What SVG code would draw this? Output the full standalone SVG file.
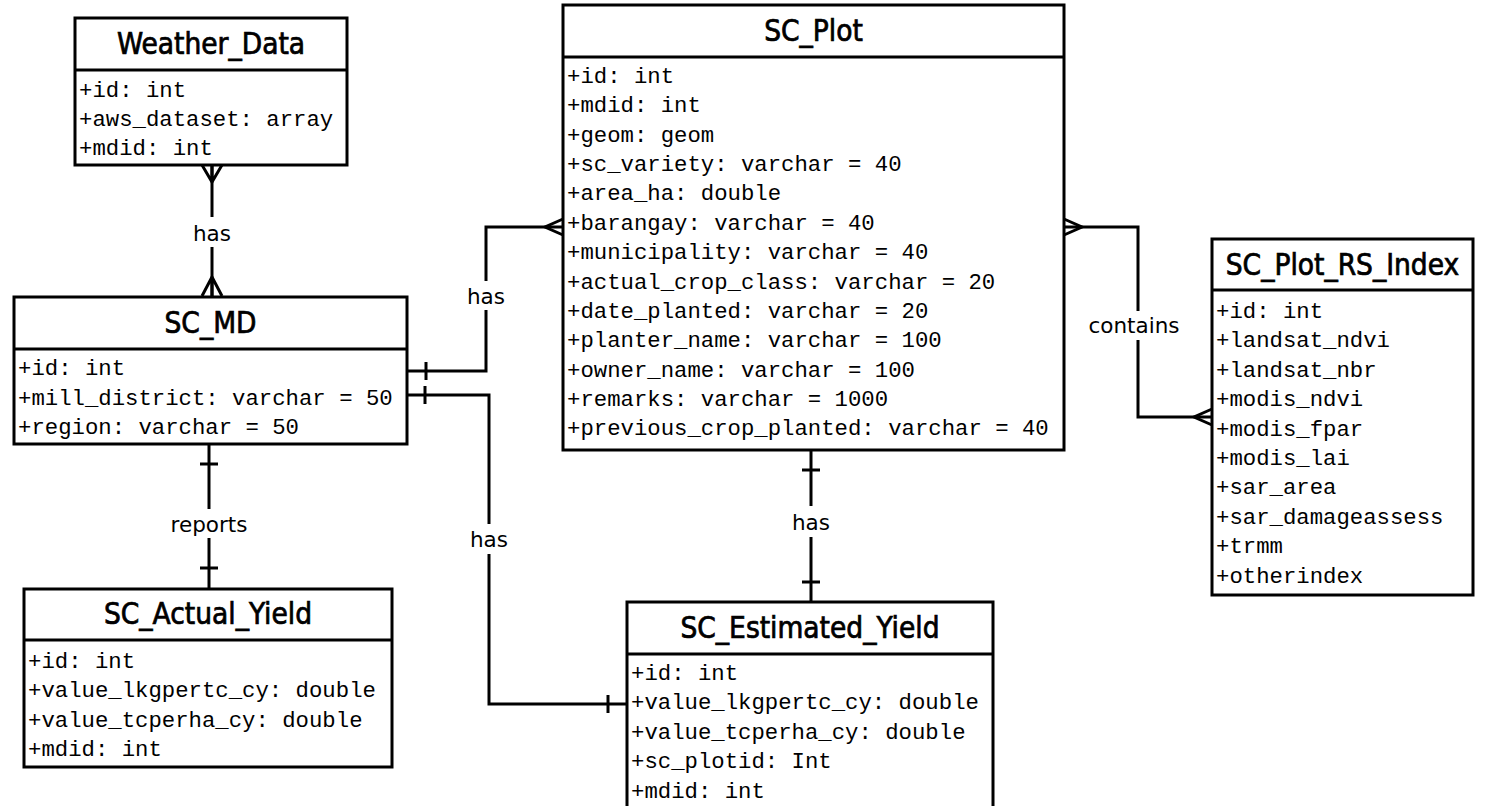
<svg xmlns="http://www.w3.org/2000/svg" width="1488" height="806" viewBox="0 0 1488 806">
<style>
.box{fill:#fff;stroke:#000;stroke-width:3}
.div{stroke:#000;stroke-width:3}
.title{font-family:"DejaVu Sans Condensed","DejaVu Sans",sans-serif;font-size:29.5px;fill:#000;stroke:#000;stroke-width:0.7;text-anchor:middle}
.attr{font-family:"Courier New","Liberation Mono",Courier,"Nimbus Mono PS",FreeMono,monospace;font-size:22.3px;fill:#000}
.conn{fill:none;stroke:#000;stroke-width:3}
.lbl{font-family:"DejaVu Sans",sans-serif;font-size:21.5px;fill:#000;text-anchor:middle}
.bg{fill:#fff}
</style>
<rect width="1488" height="806" fill="#fff"/>

<g id="connectors">
  <path class="conn" d="M212,165 V296"/>
  <path class="conn" d="M202,165 L212,182 L222,165 M212,165 V182"/>
  <path class="conn" d="M202,296 L212,277 L222,296 M212,296 V277"/>
  <rect class="bg" x="190" y="217" width="44" height="30"/>
  <text class="lbl" x="212" y="241">has</text>

  <path class="conn" d="M407,371 H486 V227 H563"/>
  <path class="conn" d="M426,362 V380"/>
  <path class="conn" d="M563,219 L545,227 L563,235"/>
  <rect class="bg" x="464" y="281" width="44" height="29"/>
  <text class="lbl" x="486" y="304">has</text>

  <path class="conn" d="M407,395 H489 V704 H627"/>
  <path class="conn" d="M425,386 V404"/>
  <path class="conn" d="M608,695 V713"/>
  <rect class="bg" x="467" y="524" width="44" height="30"/>
  <text class="lbl" x="489" y="547">has</text>

  <path class="conn" d="M209,444 V589"/>
  <path class="conn" d="M200,464 H218 M200,568 H218"/>
  <rect class="bg" x="166" y="509" width="86" height="29"/>
  <text class="lbl" x="209" y="532">reports</text>

  <path class="conn" d="M811,450 V602"/>
  <path class="conn" d="M802,470 H820 M802,582 H820"/>
  <rect class="bg" x="789" y="506" width="44" height="31"/>
  <text class="lbl" x="811" y="530">has</text>

  <path class="conn" d="M1064,227 H1138 V417 H1212"/>
  <path class="conn" d="M1064,219 L1082,227 L1064,235"/>
  <path class="conn" d="M1212,409 L1194,417 L1212,425"/>
  <rect class="bg" x="1085" y="311" width="100" height="29"/>
  <text class="lbl" x="1134" y="333">contains</text>
</g>

<g id="Weather_Data">
  <rect class="box" x="75" y="18" width="272" height="147"/>
  <line class="div" x1="75" y1="70" x2="347" y2="70"/>
  <text class="title" x="211" y="54">Weather_Data</text>
  <text class="attr" x="79" y="97">+id: int</text>
  <text class="attr" x="79" y="126">+aws_dataset: array</text>
  <text class="attr" x="79" y="155">+mdid: int</text>
</g>

<g id="SC_MD">
  <rect class="box" x="14" y="297" width="393" height="147"/>
  <line class="div" x1="14" y1="349" x2="407" y2="349"/>
  <text class="title" x="210.5" y="333">SC_MD</text>
  <text class="attr" x="18" y="375">+id: int</text>
  <text class="attr" x="18" y="405">+mill_district: varchar = 50</text>
  <text class="attr" x="18" y="434">+region: varchar = 50</text>
</g>

<g id="SC_Plot">
  <rect class="box" x="563" y="5" width="501" height="445"/>
  <line class="div" x1="563" y1="57" x2="1064" y2="57"/>
  <text class="title" x="813.5" y="41">SC_Plot</text>
  <text class="attr" x="567" y="83">+id: int</text>
  <text class="attr" x="567" y="112.4">+mdid: int</text>
  <text class="attr" x="567" y="141.7">+geom: geom</text>
  <text class="attr" x="567" y="171.1">+sc_variety: varchar = 40</text>
  <text class="attr" x="567" y="200.4">+area_ha: double</text>
  <text class="attr" x="567" y="229.8">+barangay: varchar = 40</text>
  <text class="attr" x="567" y="259.1">+municipality: varchar = 40</text>
  <text class="attr" x="567" y="288.5">+actual_crop_class: varchar = 20</text>
  <text class="attr" x="567" y="317.8">+date_planted: varchar = 20</text>
  <text class="attr" x="567" y="347.2">+planter_name: varchar = 100</text>
  <text class="attr" x="567" y="376.5">+owner_name: varchar = 100</text>
  <text class="attr" x="567" y="405.9">+remarks: varchar = 1000</text>
  <text class="attr" x="567" y="435.2">+previous_crop_planted: varchar = 40</text>
</g>

<g id="SC_Plot_RS_Index">
  <rect class="box" x="1212" y="239" width="261" height="356"/>
  <line class="div" x1="1212" y1="290" x2="1473" y2="290"/>
  <text class="title" x="1342.5" y="275">SC_Plot_RS_Index</text>
  <text class="attr" x="1216" y="318">+id: int</text>
  <text class="attr" x="1216" y="347.4">+landsat_ndvi</text>
  <text class="attr" x="1216" y="376.8">+landsat_nbr</text>
  <text class="attr" x="1216" y="406.2">+modis_ndvi</text>
  <text class="attr" x="1216" y="435.6">+modis_fpar</text>
  <text class="attr" x="1216" y="465">+modis_lai</text>
  <text class="attr" x="1216" y="494.4">+sar_area</text>
  <text class="attr" x="1216" y="523.8">+sar_damageassess</text>
  <text class="attr" x="1216" y="553.2">+trmm</text>
  <text class="attr" x="1216" y="582.6">+otherindex</text>
</g>

<g id="SC_Actual_Yield">
  <rect class="box" x="24" y="589" width="368" height="178"/>
  <line class="div" x1="24" y1="640" x2="392" y2="640"/>
  <text class="title" x="208" y="624">SC_Actual_Yield</text>
  <text class="attr" x="28" y="667.5">+id: int</text>
  <text class="attr" x="28" y="697">+value_lkgpertc_cy: double</text>
  <text class="attr" x="28" y="726.5">+value_tcperha_cy: double</text>
  <text class="attr" x="28" y="756">+mdid: int</text>
</g>

<g id="SC_Estimated_Yield">
  <rect class="box" x="627" y="602" width="366" height="212"/>
  <line class="div" x1="627" y1="654" x2="993" y2="654"/>
  <text class="title" x="810" y="638">SC_Estimated_Yield</text>
  <text class="attr" x="631" y="680">+id: int</text>
  <text class="attr" x="631" y="709.4">+value_lkgpertc_cy: double</text>
  <text class="attr" x="631" y="738.8">+value_tcperha_cy: double</text>
  <text class="attr" x="631" y="768.2">+sc_plotid: Int</text>
  <text class="attr" x="631" y="797.6">+mdid: int</text>
</g>
</svg>
